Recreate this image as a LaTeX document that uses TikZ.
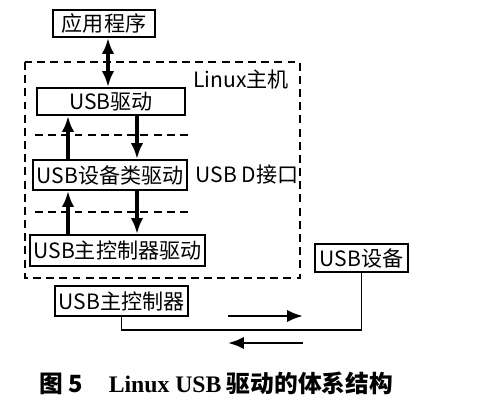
\documentclass[tikz,border=0pt]{standalone}
\usepackage{fontspec}
\setmainfont{Liberation Serif}
\newfontfamily\cjk{Noto Sans CJK SC}
\usepackage{tikz}
\usetikzlibrary{arrows.meta}

\begin{document}
\begin{tikzpicture}[x=0.02cm,y=0.02cm]
    \tikzstyle{every node}+=[inner sep=0pt, font=\cjk\fontsize{12pt}{14pt}\selectfont]
    \tikzstyle{blk}=[draw=black, line width=1.1pt, minimum height=0.55cm]
    \tikzstyle{flow}=[line width=2pt, -{Latex[length=9pt,width=7pt]}]
    \tikzstyle{sep}=[line width=1.1pt, dash pattern=on 4.5pt off 3pt]
    \useasboundingbox (0,0) rectangle (500,-416);
    % host frame
    \draw [sep] (25,-62) rectangle (300,-278);
    \node (host) at (241,-79) {Linux主机};
    \node (iface) at (247,-175) {USB D接口};
    \draw [sep] (35,-135) -- (190,-135);
    \draw [sep] (35,-212) -- (190,-212);
    % boxes
    \node [blk, minimum width=2.04cm, minimum height=0.54cm] (app) at (104,-23.5) {应用程序};
    \node [blk, minimum width=2.96cm, minimum height=0.54cm] (drv) at (111,-101.5) {USB驱动};
    \node [blk, minimum width=3.08cm, minimum height=0.6cm] (cls) at (110,-175) {USB设备类驱动};
    \node [blk, minimum width=3.5cm, minimum height=0.62cm] (hcd) at (117.5,-250.5) {USB主控制器驱动};
    \node [blk, minimum width=1.86cm, minimum height=0.56cm] (dev) at (361.5,-258) {USB设备};
    \node [blk, minimum width=2.66cm, minimum height=0.6cm] (hc) at (121.5,-301) {USB主控制器};
    % arrows
    \coordinate (mx) at (108,0);
    \coordinate (lx) at (68,0);
    \coordinate (rx) at (137,0);
    \draw [flow, {Latex[length=9pt,width=7pt]}-{Latex[length=9pt,width=7pt]}] (app.south -| mx) -- (drv.north -| mx);
    \draw [flow] (cls.north -| lx) -- (drv.south -| lx);
    \draw [flow] (drv.south -| rx) -- (cls.north -| rx);
    \draw [flow] (hcd.north -| lx) -- (cls.south -| lx);
    \draw [flow] (cls.south -| rx) -- (hcd.north -| rx);
    % bus
    \draw [line width=1pt] (hc.south) -- ++(0,-13) -| (dev.south);
    \coordinate (ta) at (228,-316);
    \coordinate (tb) at (303,-316);
    \coordinate (ra) at (303,-343);
    \coordinate (rb) at (228,-343);
    \draw [flow, line width=1.5pt] (ta) -- (tb);
    \draw [flow, line width=1.5pt] (ra) -- (rb);
    % caption
    \node [font=\cjk\bfseries\fontsize{13.5pt}{16pt}\selectfont] (cap) at (216,-383) {图 5\hspace{1.1em}{\fontspec{Liberation Serif}\bfseries Linux USB} 驱动的体系结构};
\end{tikzpicture}
\end{document}
